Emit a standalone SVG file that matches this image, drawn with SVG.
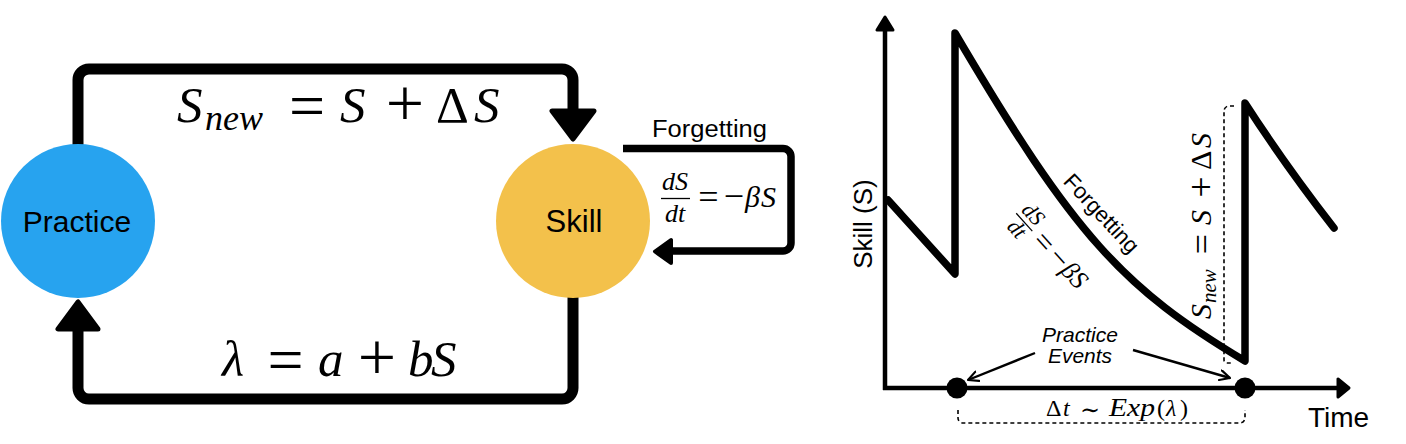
<svg xmlns="http://www.w3.org/2000/svg" width="1406" height="444" viewBox="0 0 1406 444">
<style>
.sans{font-family:"Liberation Sans",Arial,sans-serif;fill:#000}
.mi{font-family:"Liberation Serif","Times New Roman",serif;font-style:italic;fill:#000}
.mr{font-family:"Liberation Serif","Times New Roman",serif;fill:#000}
.line{fill:none;stroke:#000;stroke-linejoin:round}
.head{fill:#000;stroke:#000;stroke-linejoin:round}
.dash{fill:none;stroke:#000;stroke-width:1.6;stroke-dasharray:4 3}
</style>
<defs>
<marker id="open" viewBox="0 0 12 12" refX="11" refY="6" markerWidth="12" markerHeight="12" markerUnits="userSpaceOnUse" orient="auto"><path d="M1,1 L11,6 L1,11" fill="none" stroke="#000" stroke-width="2.2" stroke-linecap="round" stroke-linejoin="round"/></marker>
</defs>
<rect width="1406" height="444" fill="#fff"/>

<g id="connectors">
  <path class="line" stroke-width="11" d="M78,145 V80 A11,11 0 0 1 89,69 H562 A11,11 0 0 1 573,80 V113"/>
  <polygon class="head" stroke-width="5" points="552,111 594,111 573,139"/>
  <path class="line" stroke-width="11" d="M573,297 V388 A11,11 0 0 1 562,399 H89 A11,11 0 0 1 78,388 V327"/>
  <polygon class="head" stroke-width="5" points="58,329 98,329 78,302"/>
  <path class="line" stroke-width="7.5" d="M623,148.5 H783 A8,8 0 0 1 791,156.5 V243 A8,8 0 0 1 783,251 H668"/>
  <polygon class="head" stroke-width="4" points="671,240 671,263 655,251.5"/>
</g>

<g id="label-update">
  <text class="mi" font-size="51" x="177" y="122">S</text>
  <text class="mi" font-size="36" x="205" y="130">new</text>
  <text class="mr" font-size="64" x="307" y="126.6" text-anchor="middle">=</text>
  <text class="mi" font-size="51" x="340" y="122">S</text>
  <text class="mr" font-size="68" x="405" y="126" text-anchor="middle">+</text>
  <text class="mr" font-size="51" x="436" y="122">Δ</text>
  <text class="mi" font-size="51" x="474" y="122">S</text>
</g>

<g id="label-rate">
  <text class="mi" font-size="51" x="222" y="376">λ</text>
  <text class="mr" font-size="64" x="285.5" y="381" text-anchor="middle">=</text>
  <text class="mi" font-size="51" x="318" y="376">a</text>
  <text class="mr" font-size="68" x="377" y="380" text-anchor="middle">+</text>
  <text class="mi" font-size="51" x="408" y="376">b</text>
  <text class="mi" font-size="51" x="431" y="376">S</text>
</g>

<g id="label-forgetting">
  <text class="sans" font-size="23" x="652" y="137" textLength="115" lengthAdjust="spacingAndGlyphs">Forgetting</text>
  <text class="mi" font-size="26" x="675" y="190" text-anchor="middle">dS</text>
  <line x1="661" y1="198.5" x2="690" y2="198.5" stroke="#000" stroke-width="1.3"/>
  <text class="mi" font-size="26" x="675" y="222" text-anchor="middle">dt</text>
  <text class="mr" font-size="36" x="708.5" y="209" text-anchor="middle">=</text>
  <text class="mr" font-size="36" x="734" y="208" text-anchor="middle">−</text>
  <text class="mi" font-size="30" x="745" y="207">β</text>
  <text class="mi" font-size="30" x="761" y="207">S</text>
</g>

<g id="practice">
  <circle cx="78" cy="221" r="77" fill="#27A3EF"/>
  <text class="sans" font-size="30" x="77" y="232" text-anchor="middle">Practice</text>
</g>

<g id="skill">
  <circle cx="573" cy="221" r="77" fill="#F3C14B"/>
  <text class="sans" font-size="31" x="574" y="232" text-anchor="middle">Skill</text>
</g>

<g id="chart">
  <path class="line" stroke-width="4.5" d="M885,390 V27"/>
  <polygon class="head" stroke-width="3" points="877,30 893,30 885,17"/>
  <path class="line" stroke-width="4.5" d="M883,388 H1340"/>
  <polygon class="head" stroke-width="3" points="1338,379 1338,397 1349,388"/>
  <path fill="none" stroke="#000" stroke-width="7.5" stroke-linejoin="round" stroke-linecap="round" d="M888,200 L955,274 V33 C1075,237 1123,288 1245,361 V103 Q1285,165 1334,228"/>
  <circle cx="957" cy="388" r="10.5" fill="#000"/>
  <circle cx="1245" cy="388" r="10.5" fill="#000"/>
  <path class="dash" d="M958,410 V418 A5,5 0 0 0 963,423 H1240 A5,5 0 0 0 1245,418 V410"/>
  <path class="dash" d="M1234,106 H1229 A5,5 0 0 0 1224,111 V360 A3,3 0 0 0 1227,363 H1231"/>

  <text class="sans" font-size="26" transform="translate(872,224) rotate(-90)" text-anchor="middle">Skill (S)</text>
  <text class="sans" font-size="28" x="1308" y="427">Time</text>
  <text class="sans" font-size="21" font-style="italic" x="1080" y="342" text-anchor="middle">Practice</text>
  <text class="sans" font-size="21" font-style="italic" x="1080" y="363" text-anchor="middle">Events</text>
  <line x1="1035" y1="353" x2="968" y2="380" stroke="#000" stroke-width="2.4" marker-end="url(#open)"/>
  <line x1="1133" y1="350" x2="1230" y2="378" stroke="#000" stroke-width="2.4" marker-end="url(#open)"/>

  <text class="sans" font-size="22" transform="translate(1096,218.5) rotate(47)" text-anchor="middle">Forgetting</text>

  <g transform="translate(1043,243) rotate(48)">
    <text class="mi" font-size="22" x="-28" y="-5" text-anchor="middle">dS</text>
    <line x1="-40" y1="0" x2="-16" y2="0" stroke="#000" stroke-width="1.2"/>
    <text class="mi" font-size="22" x="-28" y="17" text-anchor="middle">dt</text>
    <text class="mr" font-size="31" x="0" y="8.5" text-anchor="middle">=</text>
    <text class="mr" font-size="31" x="22" y="8" text-anchor="middle">−</text>
    <text class="mi" font-size="26" x="32" y="6.5">β</text>
    <text class="mi" font-size="26" x="45" y="6.5">S</text>
  </g>

  <g transform="translate(1211,223) rotate(-90)">
    <text class="mi" font-size="30" x="-96" y="0">S</text>
    <text class="mi" font-size="21" x="-80" y="5">new</text>
    <text class="mr" font-size="36" x="-21" y="2.5" text-anchor="middle">=</text>
    <text class="mi" font-size="30" x="-2" y="0">S</text>
    <text class="mr" font-size="38" x="36" y="2.5" text-anchor="middle">+</text>
    <text class="mr" font-size="30" x="53" y="0">Δ</text>
    <text class="mi" font-size="30" x="75" y="0">S</text>
  </g>

  <text class="mr" font-size="24" x="1046" y="416">Δ</text>
  <text class="mi" font-size="24" x="1063" y="416">t</text>
  <text font-family="DejaVu Serif,serif" font-size="24" x="1090" y="418" text-anchor="middle">∼</text>
  <text class="mi" font-size="25" x="1109" y="416" textLength="46" lengthAdjust="spacingAndGlyphs">Exp</text>
  <text class="mr" font-size="24" x="1157" y="416">(</text>
  <text class="mi" font-size="24" x="1166" y="416">λ</text>
  <text class="mr" font-size="24" x="1180" y="416">)</text>
</g>
</svg>
